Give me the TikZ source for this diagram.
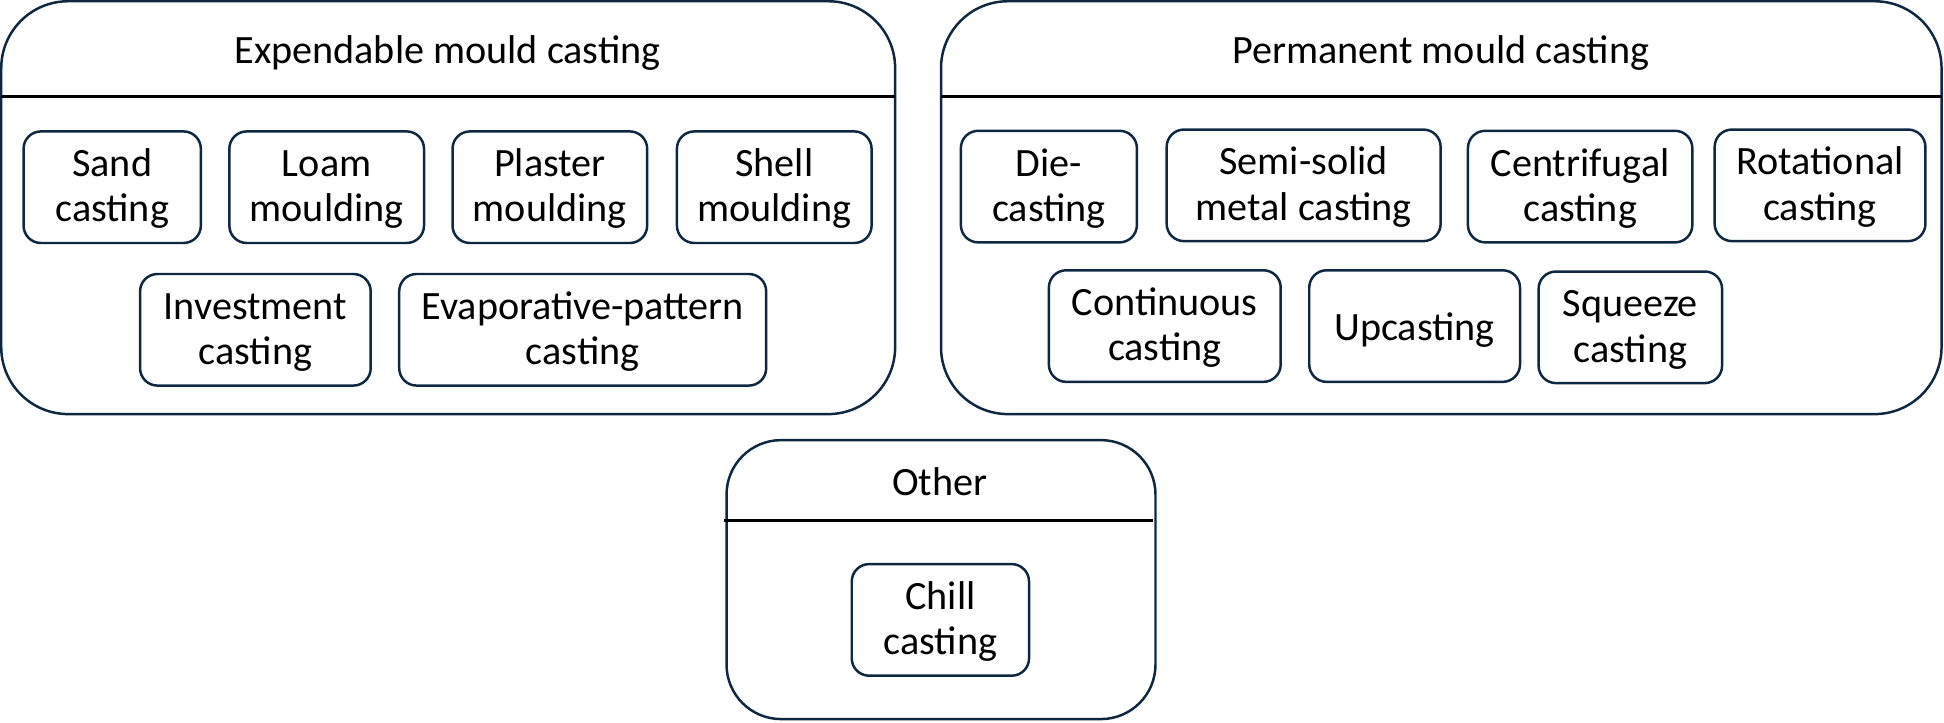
\documentclass[tikz,border=0pt]{standalone}
\usepackage{fontspec}
\setmainfont{Carlito}
\definecolor{edge}{HTML}{0E2841}
\begin{document}
\begin{tikzpicture}[x=0.5pt,y=-0.5pt,
  every node/.style={font=\fontsize{16.2}{18.2}\selectfont, text=black},
  container/.style={draw=edge, line width=1pt, rounded corners=27pt, inner sep=0pt},
  smallcontainer/.style={draw=edge, line width=1pt, rounded corners=22pt, inner sep=0pt},
  item/.style={draw=edge, line width=1pt, rounded corners=7pt, align=center, inner sep=0pt,
    minimum height=45pt, text height=30.2pt, text depth=2.2pt},
  oneline/.style={text height=12.2pt, text depth=0.2pt},
  title/.style={inner sep=0pt, anchor=base},
  divider/.style={draw=black, line width=1pt}]
\useasboundingbox (0,0) rectangle (1568,582.4);
% containers
\node[container, minimum width=360.5pt, minimum height=166.5pt] (exp) at (361.5,167.5) {};
\node[container, minimum width=403.5pt, minimum height=166.5pt] (perm) at (1162.5,167.5) {};
\node[smallcontainer, minimum width=173pt, minimum height=112.5pt] (oth) at (759,467.5) {};
% titles
\node[title] (expt) at (361,51.5) {Expendable mould casting};
\node[title] (permt) at (1162,51.5) {Permanent mould casting};
\node[title] (otht) at (758,400) {Other};
% dividers
\coordinate (d1a) at (1,78); \coordinate (d1b) at (722,78);
\coordinate (d2a) at (759,78); \coordinate (d2b) at (1566,78);
\coordinate (d3a) at (584,420); \coordinate (d3b) at (930,420);
\draw[divider] (d1a) -- (d1b);
\draw[divider] (d2a) -- (d2b);
\draw[divider] (d3a) -- (d3b);
% expendable items
\node[item, minimum width=71.5pt] (sand) at (90.5,151) {Sand\\casting};
\node[item, minimum width=78.5pt] (loam) at (263.5,151) {Loam\\moulding};
\node[item, minimum width=78.5pt] (plaster) at (443.5,151) {Plaster\\moulding};
\node[item, minimum width=78.5pt] (shell) at (624.5,151) {Shell\\moulding};
\node[item, minimum width=93pt] (invest) at (206,266) {Investment\\casting};
\node[item, minimum width=148pt] (evap) at (470,266) {Evaporative-pattern\\casting};
% permanent items
\node[item, minimum width=71pt] (die) at (846,150.5) {Die-\\casting};
\node[item, minimum width=110.5pt] (semi) at (1051.5,149.5) {Semi-solid\\metal casting};
\node[item, minimum width=90.5pt] (centri) at (1274.5,150.5) {Centrifugal\\casting};
\node[item, minimum width=85pt] (rot) at (1468,149.5) {Rotational\\casting};
\node[item, minimum width=93.5pt] (cont) at (939.5,263) {Continuous\\casting};
\node[item, oneline, minimum width=85pt] (up) at (1141,263) {Upcasting};
\node[item, minimum width=74pt] (squeeze) at (1315,264) {Squeeze\\casting};
% other
\node[item, minimum width=71.5pt] (chill) at (758.5,500) {Chill\\casting};
\end{tikzpicture}
\end{document}
